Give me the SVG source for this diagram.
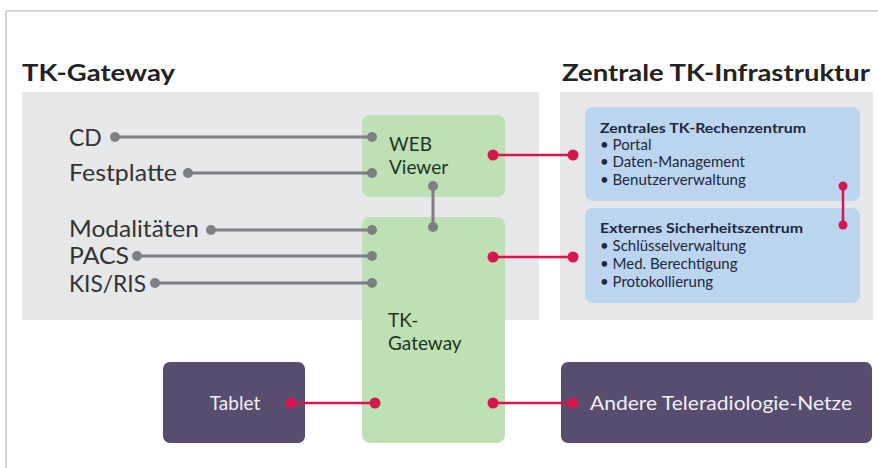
<svg xmlns="http://www.w3.org/2000/svg" width="878" height="468" viewBox="0 0 878 468">
<style>
.title{font-family:Lato,"Open Sans","Liberation Sans",sans-serif;font-weight:bold;font-size:23px;fill:#222}
.lbl{font-family:Lato,"Open Sans","Liberation Sans",sans-serif;font-size:23px;fill:#333}
.box{font-family:Lato,"Open Sans","Liberation Sans",sans-serif;font-size:19px;fill:#1f3522}
.bh{font-family:Lato,"Open Sans","Liberation Sans",sans-serif;font-weight:bold;font-size:14px;fill:#1c2740}
.bl{font-family:Lato,"Open Sans","Liberation Sans",sans-serif;font-size:15px;fill:#1c2740}
.wt{font-family:Lato,"Open Sans","Liberation Sans",sans-serif;font-size:19px;fill:#f2f0f6}
.g{stroke:#7d7f82;stroke-width:3;fill:none}
.r{stroke:#d6164f;stroke-width:2.5;fill:none}
.gd{fill:#7d7f82}
.rd{fill:#d6164f}
.green{fill:#bde0b4}
.blue{fill:#bcd5ee}
.purple{fill:#584c6f}
.panel{fill:#e5e7e9}
</style>
<rect width="878" height="468" fill="#fff"/>
<path d="M6 468 V11 H878" stroke="#d4d4d4" stroke-width="2" fill="none"/>
<g id="header-left"><text class="title" x="22" y="81" textLength="153" lengthAdjust="spacingAndGlyphs">TK-Gateway</text></g>
<g id="header-right"><text class="title" x="562" y="81" textLength="308" lengthAdjust="spacingAndGlyphs">Zentrale TK-Infrastruktur</text></g>
<g id="panel-left"><rect class="panel" x="22" y="92" width="517" height="228"/></g>
<g id="panel-right"><rect class="panel" x="560" y="92" width="313" height="228"/></g>

<g id="web-viewer">
<rect class="green" x="362" y="115" width="143" height="82" rx="8"/>
<text class="box" x="389" y="151">WEB</text>
<text class="box" x="389" y="174">Viewer</text>
</g>
<g id="tk-gateway">
<rect class="green" x="362" y="217" width="143" height="226" rx="8"/>
<text class="box" x="388" y="327">TK-</text>
<text class="box" x="388" y="350">Gateway</text>
</g>

<g id="rz">
<rect class="blue" x="585" y="107" width="275" height="94" rx="8"/>
<text class="bh" x="600" y="133" textLength="206" lengthAdjust="spacingAndGlyphs">Zentrales TK-Rechenzentrum</text>
<text class="bl" x="600" y="150">• Portal</text>
<text class="bl" x="600" y="167">• Daten-Management</text>
<text class="bl" x="600" y="185">• Benutzerverwaltung</text>
</g>
<g id="sz">
<rect class="blue" x="585" y="208" width="275" height="95" rx="8"/>
<text class="bh" x="600" y="233" textLength="203" lengthAdjust="spacingAndGlyphs">Externes Sicherheitszentrum</text>
<text class="bl" x="600" y="251">• Schlüsselverwaltung</text>
<text class="bl" x="600" y="269">• Med. Berechtigung</text>
<text class="bl" x="600" y="287">• Protokollierung</text>
</g>

<g id="tablet">
<rect class="purple" x="163" y="362" width="142" height="81" rx="7"/>
<text class="wt" x="235" y="410" text-anchor="middle">Tablet</text>
</g>
<g id="andere">
<rect class="purple" x="561" y="362" width="311" height="81" rx="7"/>
<text class="wt" x="590" y="410" textLength="262" lengthAdjust="spacingAndGlyphs">Andere Teleradiologie-Netze</text>
</g>

<g id="label-cd"><text class="lbl" x="69" y="146">CD</text></g>
<g id="label-festplatte"><text class="lbl" x="69" y="181" textLength="108" lengthAdjust="spacingAndGlyphs">Festplatte</text></g>
<g id="label-modalitaeten"><text class="lbl" x="69" y="237" textLength="130" lengthAdjust="spacingAndGlyphs">Modalitäten</text></g>
<g id="label-pacs"><text class="lbl" x="69" y="264" textLength="60" lengthAdjust="spacingAndGlyphs">PACS</text></g>
<g id="label-kisris"><text class="lbl" x="69" y="292" textLength="77" lengthAdjust="spacingAndGlyphs">KIS/RIS</text></g>

<g id="connectors">
<path class="g" d="M115 137 H372"/>
<path class="g" d="M188 173 H372"/>
<path class="g" d="M211 230 H372"/>
<path class="g" d="M137 256 H372"/>
<path class="g" d="M155 283 H372"/>
<path class="g" d="M433 186 V227"/>
<circle class="gd" cx="115" cy="137" r="5"/><circle class="gd" cx="372" cy="137" r="5"/>
<circle class="gd" cx="188" cy="173" r="5"/><circle class="gd" cx="372" cy="173" r="5"/>
<circle class="gd" cx="211" cy="230" r="5"/><circle class="gd" cx="372" cy="230" r="5"/>
<circle class="gd" cx="137" cy="256" r="5"/><circle class="gd" cx="372" cy="256" r="5"/>
<circle class="gd" cx="155" cy="283" r="5"/><circle class="gd" cx="372" cy="283" r="5"/>
<circle class="gd" cx="433" cy="186" r="5"/><circle class="gd" cx="433" cy="227" r="5"/>
<path class="r" d="M493 155 H573"/>
<path class="r" d="M493 257 H573"/>
<path class="r" d="M843 186 V225"/>
<path class="r" d="M291 403 H375"/>
<path class="r" d="M493 403 H573"/>
<circle class="rd" cx="493" cy="155" r="5.5"/><circle class="rd" cx="573" cy="155" r="5.5"/>
<circle class="rd" cx="493" cy="257" r="5.5"/><circle class="rd" cx="573" cy="257" r="5.5"/>
<circle class="rd" cx="843" cy="186" r="4.5"/><circle class="rd" cx="843" cy="225" r="4.5"/>
<circle class="rd" cx="291" cy="403" r="5.5"/><circle class="rd" cx="375" cy="403" r="5.5"/>
<circle class="rd" cx="493" cy="403" r="5.5"/><circle class="rd" cx="573" cy="403" r="5.5"/>
</g>
</svg>
